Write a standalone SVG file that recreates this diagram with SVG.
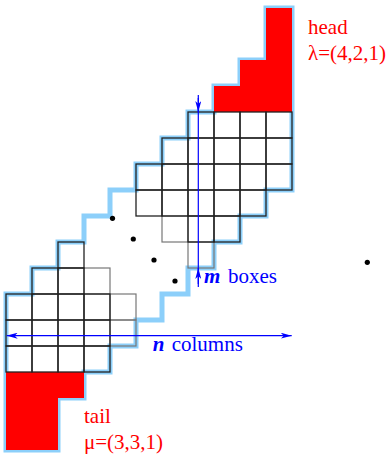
<svg xmlns="http://www.w3.org/2000/svg" width="390" height="460" viewBox="0 0 390 460">
<defs>
<style>
.outline{fill:none;stroke:#8ccffa;stroke-width:5;stroke-linejoin:miter}
.red{fill:#ff0000;stroke:none}
.cell{fill:none;stroke:#222;stroke-width:1.3}
.faint{fill:none;stroke:#777;stroke-width:1.2}
.arrow{fill:none;stroke:#0000ff;stroke-width:1.2}
.dot{fill:#000}
.lbl{font-family:"Liberation Serif","Times New Roman",serif;font-size:21px}
.redt{fill:#ff0000}
.bluet{fill:#0000ff}
.bi{font-weight:bold;font-style:italic}
</style>
<marker id="ah" viewBox="0 0 11 6" refX="11" refY="3" markerWidth="11" markerHeight="6" markerUnits="userSpaceOnUse" orient="auto-start-reverse">
<path d="M0,0 L11,3 L0,6 L3,3 z" fill="#0000ff"/>
</marker>
</defs>
<rect width="390" height="460" fill="#fff"/>

<g id="outline">
<polygon class="outline" points="292,8 292,190 266,190 266,216 240,216 240,242 214,242 214,268 188,268 188,294 162,294 162,320 136,320 136,346 110,346 110,372 84,372 84,398 58,398 58,450 6,450 6,294 32,294 32,268 58,268 58,242 84,242 84,216 110,216 110,190 136,190 136,164 162,164 162,138 188,138 188,112 214,112 214,86 240,86 240,60 266,60 266,8"/>
</g>

<g id="head">
<polygon class="red" points="214,112 214,86 240,86 240,60 266,60 266,8 292,8 292,112"/>
</g>
<g id="tail">
<polygon class="red" points="6,372 84,372 84,398 58,398 58,450 6,450"/>
</g>

<g id="grid-upper">
<rect class="faint" x="162" y="216" width="26" height="26"/>
<rect class="faint" x="188" y="242" width="26" height="26"/>
<g class="cell">
<rect x="188" y="112" width="26" height="26"/><rect x="214" y="112" width="26" height="26"/><rect x="240" y="112" width="26" height="26"/><rect x="266" y="112" width="26" height="26"/>
<rect x="162" y="138" width="26" height="26"/><rect x="188" y="138" width="26" height="26"/><rect x="214" y="138" width="26" height="26"/><rect x="240" y="138" width="26" height="26"/><rect x="266" y="138" width="26" height="26"/>
<rect x="136" y="164" width="26" height="26"/><rect x="162" y="164" width="26" height="26"/><rect x="188" y="164" width="26" height="26"/><rect x="214" y="164" width="26" height="26"/><rect x="240" y="164" width="26" height="26"/><rect x="266" y="164" width="26" height="26"/>
<rect x="136" y="190" width="26" height="26"/><rect x="162" y="190" width="26" height="26"/><rect x="188" y="190" width="26" height="26"/><rect x="214" y="190" width="26" height="26"/><rect x="240" y="190" width="26" height="26"/>
<rect x="188" y="216" width="26" height="26"/><rect x="214" y="216" width="26" height="26"/>
</g>
</g>

<g id="grid-lower">
<rect class="faint" x="84" y="268" width="26" height="26"/>
<rect class="faint" x="110" y="294" width="26" height="26"/>
<rect class="faint" x="110" y="320" width="26" height="26"/>
<g class="cell">
<rect x="58" y="242" width="26" height="26"/>
<rect x="32" y="268" width="26" height="26"/><rect x="58" y="268" width="26" height="26"/>
<rect x="6" y="294" width="26" height="26"/><rect x="32" y="294" width="26" height="26"/><rect x="58" y="294" width="26" height="26"/><rect x="84" y="294" width="26" height="26"/>
<rect x="6" y="320" width="26" height="26"/><rect x="32" y="320" width="26" height="26"/><rect x="58" y="320" width="26" height="26"/><rect x="84" y="320" width="26" height="26"/>
<rect x="6" y="346" width="26" height="26"/><rect x="32" y="346" width="26" height="26"/><rect x="58" y="346" width="26" height="26"/><rect x="84" y="346" width="26" height="26"/>
</g>
</g>

<g id="dots">
<circle class="dot" cx="112.5" cy="218.3" r="2.6"/>
<circle class="dot" cx="133.3" cy="239" r="2.6"/>
<circle class="dot" cx="154" cy="260" r="2.6"/>
<circle class="dot" cx="175" cy="281" r="2.6"/>
<circle class="dot" cx="367.3" cy="262.3" r="2.6"/>
</g>

<g id="connectors">
<line class="arrow" x1="198.3" y1="95" x2="198.3" y2="287"/>
<line class="arrow" x1="198.3" y1="98" x2="198.3" y2="112" marker-end="url(#ah)"/>
<line class="arrow" x1="198.3" y1="284" x2="198.3" y2="268" marker-end="url(#ah)"/>
<line class="arrow" x1="6.7" y1="335.7" x2="291.7" y2="335.7" marker-start="url(#ah)" marker-end="url(#ah)"/>
</g>

<g id="labels">
<text class="lbl redt" x="308" y="34">head</text>
<text class="lbl redt" x="308" y="60">λ=(4,2,1)</text>
<text class="lbl redt" x="84" y="423">tail</text>
<text class="lbl redt" x="84" y="449">μ=(3,3,1)</text>
<text class="lbl bluet" y="283"><tspan class="bi" x="204">m</tspan><tspan x="228">boxes</tspan></text>
<text class="lbl bluet" y="351"><tspan class="bi" x="152.7">n</tspan><tspan x="171.7">columns</tspan></text>
</g>
</svg>
